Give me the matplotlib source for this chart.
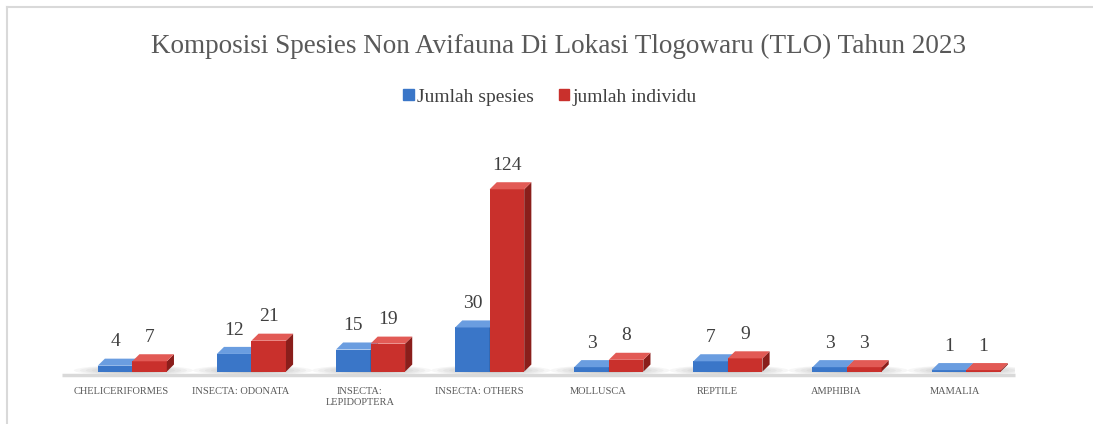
import numpy as np
import matplotlib.pyplot as plt
from matplotlib.patches import Polygon, Ellipse
from matplotlib.lines import Line2D

kategori = ["CHELICERIFORMES", "INSECTA: ODONATA", "INSECTA:\nLEPIDOPTERA", "INSECTA: OTHERS",
            "MOLLUSCA", "REPTILE", "AMPHIBIA", "MAMALIA"]
jumlah_spesies = [4, 12, 15, 30, 3, 7, 3, 1]
jumlah_individu = [7, 21, 19, 124, 8, 9, 3, 1]
seri = ["Jumlah spesies", "jumlah individu"]

judul = "Komposisi Spesies Non Avifauna Di Lokasi Tlogowaru (TLO) Tahun 2023"

plt.rcParams['font.family'] = ['Liberation Serif', 'DejaVu Serif']

W, H = 1093, 424
fig = plt.figure(figsize=(W / 100, H / 100), dpi=100)

# frame lines (top and left only)
fig.add_artist(Line2D([7 / W, 1], [1 - 7 / H, 1 - 7 / H], color='#d9d9d9', lw=1.5))
fig.add_artist(Line2D([7 / W, 7 / W], [0, 1 - 7 / H], color='#d9d9d9', lw=1.5))

left_px, right_px = 62, 1015
bottom_px, top_px = 376, 154
ax = fig.add_axes([left_px / W, 1 - bottom_px / H, (right_px - left_px) / W, (bottom_px - top_px) / H])
n = len(kategori)
ax.set_xlim(0, n)
ax.set_ylim(-3, 148)

# colours: front, side, top
warna = [("#3a76c8", "#23508f", "#6a9de0"),
         ("#c9302c", "#8a1e1b", "#e25a55")]
lebar = 0.29
dx, dy = 0.06, 4.8
offset = [0.30, 0.30 + lebar]

# floor line and shadows
ax.plot([0, n], [-2, -2], color='#d9d9d9', lw=2.5, solid_capstyle='butt', clip_on=False)
for i in range(n):
    for k in range(7):
        e = Ellipse((i + 0.6, 0.8), 1.0 - k * 0.1, 7 - k * 0.7, color='#808080', alpha=0.07, lw=0, zorder=1)
        ax.add_patch(e)

for s, vals in enumerate([jumlah_spesies, jumlah_individu]):
    front, side, top = warna[s]
    for i, v in enumerate(vals):
        x0 = i + offset[s]
        x1 = x0 + lebar
        ax.bar(x0, v, width=lebar, align='edge', color=front, zorder=3 + s, lw=0)
        ax.add_patch(Polygon([[x1, 0], [x1 + dx, dy], [x1 + dx, v + dy], [x1, v]],
                             closed=True, color=side, lw=0, zorder=3 + s))
        ax.add_patch(Polygon([[x0, v], [x0 + dx, v + dy], [x1 + dx, v + dy], [x1, v]],
                             closed=True, color=top, lw=0, zorder=3 + s))
        ax.annotate(str(v), (x0 + lebar / 2, v + dy), xytext=(0, 6), textcoords='offset points',
                    ha='center', va='bottom', fontsize=14, color='#404040')

ax.set_xticks(np.arange(n) + 0.5)
ax.set_xticklabels(kategori, fontsize=7.5, color='#595959', linespacing=1.3, va='top')
ax.tick_params(axis='x', length=0, pad=8)
ax.set_yticks([])
for sp in ax.spines.values():
    sp.set_visible(False)
ax.patch.set_alpha(0)

fig.text(0.511, 1 - 46 / H, judul, ha='center', va='center', fontsize=19.5, color='#595959')

handles = [plt.Rectangle((0, 0), 1, 1, color=warna[0][0]), plt.Rectangle((0, 0), 1, 1, color=warna[1][0])]
fig.legend(handles, seri, loc='center', bbox_to_anchor=(0.503, 1 - 97 / H), ncol=2, frameon=False,
           fontsize=14, handlelength=0.55, handleheight=0.55, handletextpad=0.15, columnspacing=1.3,
           labelcolor='#404040')

fig.savefig("out.png", dpi=100, facecolor='white')
